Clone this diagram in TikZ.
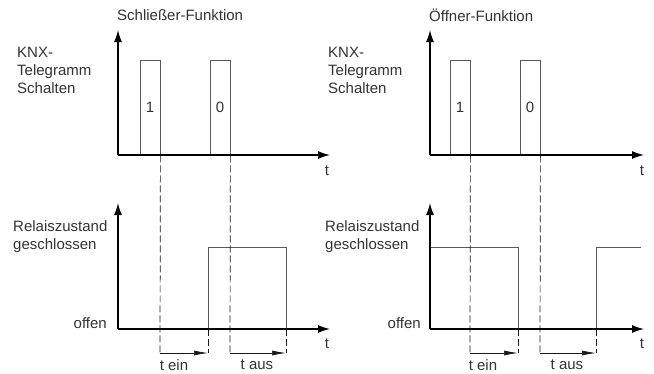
\documentclass[tikz,border=0pt]{standalone}
\usepackage{fontspec}
\setmainfont{Liberation Sans}
\usetikzlibrary{arrows.meta}
\begin{document}
\begin{tikzpicture}[x=1pt,y=-1pt]
      \useasboundingbox(0,0) rectangle (654,373);
      \tikzset{T/.style = {text=black!80, font=\fontsize{15}{18}\selectfont, inner sep=0pt}}
      \tikzset{L/.style = {T, align=left, anchor=west}}
      \tikzset{P/.style = {T, draw=black!65, line width=0.8pt, minimum width=20pt, minimum height=95pt}}
      \tikzset{A/.style = {draw, line width=1.3pt, -{Latex[length=12pt,width=8pt]}}}
      \tikzset{S/.style = {draw=black!65, line width=0.8pt}}
      \tikzset{D/.style = {draw=black!90, line width=0.7pt, dash pattern=on 7pt off 3pt}}
      \tikzset{M/.style = {draw=black!90, line width=0.7pt, -{Latex[length=14pt,width=5pt]}}}
      % Schliesser
      \node[T,anchor=west](h1) at (117,15) {Schließer-Funktion};
      \node[L](k1) at (17,70) {KNX-\\Telegramm\\Schalten};
      \node[L](r1) at (13,237) {Relaiszustand\\geschlossen};
      \node[T,anchor=east](of1) at (107,323) {offen};
      \node[P](p1) at (150,107.5) {1};
      \node[P](p2) at (220,107.5) {0};
      \coordinate (o1) at (118,155);
      \coordinate (y1) at (118,30);
      \coordinate (x1) at (330,155);
      \coordinate (o2) at (118,329);
      \coordinate (y2) at (118,203);
      \coordinate (x2) at (330,329);
      \coordinate (s1) at (208,329);
      \coordinate (s2) at (286,329);
      \coordinate (e1) at (160,353);
      \coordinate (f1) at (208,353);
      \coordinate (e2) at (230,353);
      \coordinate (f2) at (286,353);
      \draw[S](s1) -- (208,247) -- (286,247) -- (s2);
      \draw[D](p1.south east) to (e1);
      \draw[D](p2.south east) to (e2);
      \draw[D](s1) to (f1);
      \draw[D](s2) to (f2);
      \draw[M](e1) to (f1);
      \draw[M](e2) to (f2);
      \draw[A](o1) to (y1);
      \draw[A](o1) to (x1);
      \draw[A](o2) to (y2);
      \draw[A](o2) to (x2);
      \node[T](t1) at (327,171) {t};
      \node[T](t2) at (327,344) {t};
      \node[T](te1) at (174,365) {t ein};
      \node[T](ta1) at (257,365) {t aus};
      % Oeffner
      \node[T,anchor=west](h2) at (429,15) {Öffner-Funktion};
      \node[L](k2) at (328,70) {KNX-\\Telegramm\\Schalten};
      \node[L](r2) at (325,237) {Relaiszustand\\geschlossen};
      \node[T,anchor=east](of2) at (421,323) {offen};
      \node[P](p3) at (460,107.5) {1};
      \node[P](p4) at (530,107.5) {0};
      \coordinate (o3) at (430,155);
      \coordinate (y3) at (430,30);
      \coordinate (x3) at (644,155);
      \coordinate (o4) at (430,329);
      \coordinate (y4) at (430,203);
      \coordinate (x4) at (644,329);
      \coordinate (s3) at (518,329);
      \coordinate (s4) at (596,329);
      \coordinate (e3) at (470,353);
      \coordinate (f3) at (518,353);
      \coordinate (e4) at (540,353);
      \coordinate (f4) at (596,353);
      \draw[S](430,247) -- (518,247) -- (s3);
      \draw[S](s4) -- (596,247) -- (641,247);
      \draw[D](p3.south east) to (e3);
      \draw[D](p4.south east) to (e4);
      \draw[D](s3) to (f3);
      \draw[D](s4) to (f4);
      \draw[M](e3) to (f3);
      \draw[M](e4) to (f4);
      \draw[A](o3) to (y3);
      \draw[A](o3) to (x3);
      \draw[A](o4) to (y4);
      \draw[A](o4) to (x4);
      \node[T](t3) at (642,171) {t};
      \node[T](t4) at (642,344) {t};
      \node[T](te2) at (483,365) {t ein};
      \node[T](ta2) at (567,365) {t aus};
\end{tikzpicture}
\end{document}
